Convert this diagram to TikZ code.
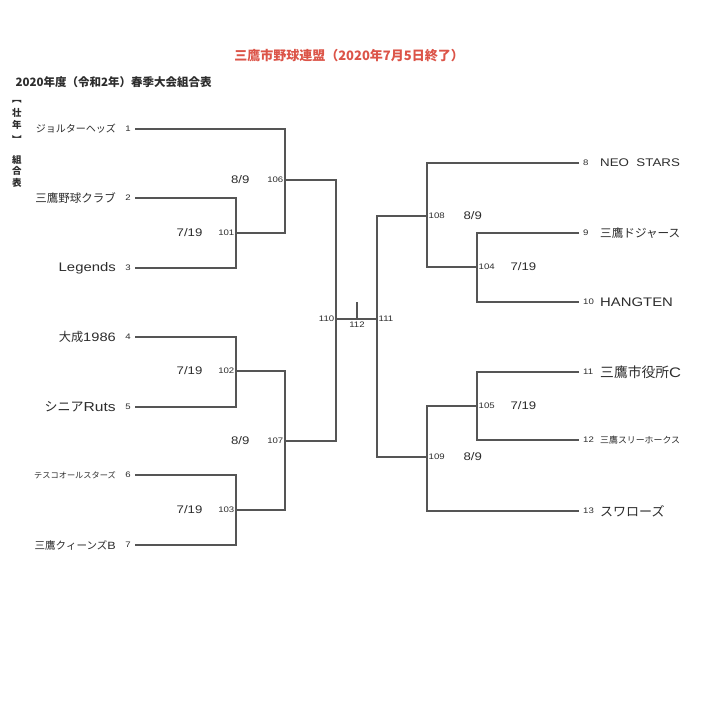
\documentclass[tikz,border=0pt]{standalone}
\usepackage{fontspec}
\usepackage{tikz}
\setmainfont{Noto Sans CJK JP}
\newfontfamily\lat{Liberation Sans}[FakeStretch=1.2]
\newcommand{\fs}[1]{\fontsize{#1}{#1}\selectfont}
\definecolor{titlered}{RGB}{220,84,72}
\definecolor{ink}{RGB}{45,45,45}
\definecolor{linegray}{RGB}{85,85,85}
\usetikzlibrary{positioning}

\begin{document}
\begin{tikzpicture}[x=1pt,y=-1pt,
        team/.style={inner sep=0pt,text=ink},
        num/.style={inner ysep=1pt,inner xsep=4pt,font=\lat\fs{8},text=ink},
        game/.style={inner ysep=1pt,inner xsep=1.5pt,font=\lat\fs{8},text=ink},
        date/.style={inner sep=0pt,font=\lat\fs{11},text=ink},
        bracket/.style={linegray,line width=1.2pt}]
                \useasboundingbox (0,0) rectangle (707,723);
                \fill[white] (0,0) rectangle (707,723);

                \node[font=\bfseries\fs{13},text=titlered] (title) at (349,56) {三鷹市野球連盟（2020年7月5日終了）};
                \node[anchor=west,font=\bfseries\fs{11.5},text=ink] (subtitle) at (12,82) {2020年度（令和2年）春季大会組合表};
                \foreach[count=\i] \c/\y in {︻/102,壮/113,年/125,︼/139,組/160,合/171,表/183} {
                    \node[font=\bfseries\fs{9.5},text=ink,inner sep=0pt] (side\i) at (17,\y) {\c};
                }

                % left half
                \node[num,anchor=east] (n1) at (135,129) {1};
                \node[num,anchor=east] (n2) at (135,198) {2};
                \node[num,anchor=east] (n3) at (135,268) {3};
                \node[num,anchor=east] (n4) at (135,337) {4};
                \node[num,anchor=east] (n5) at (135,407) {5};
                \node[num,anchor=east] (n6) at (135,475) {6};
                \node[num,anchor=east] (n7) at (135,545) {7};
                \node[team,anchor=east,font=\fs{10}] (t1) at (116,129) {ジョルターヘッズ};
                \node[team,anchor=east,font=\fs{11.5}] (t2) at (116,198) {三鷹野球クラブ};
                \node[team,anchor=east,font=\lat\fs{12.4}] (t3) at (116,268) {Legends};
                \node[team,anchor=east,font=\fs{12.2}] (t4) at (116,337) {大成{\lat 1986}};
                \node[team,anchor=east,font=\fs{13}] (t5) at (116,407) {シニア{\lat Ruts}};
                \node[team,anchor=east,font=\fs{8.2}] (t6) at (116,475) {テスコオールスターズ};
                \node[team,anchor=east,font=\fs{10.5}] (t7) at (116,545) {三鷹クィーンズ{\lat B}};

                % right half
                \node[num,anchor=west] (n8) at (579,163) {8};
                \node[num,anchor=west] (n9) at (579,233) {9};
                \node[num,anchor=west] (n10) at (579,302) {10};
                \node[num,anchor=west] (n11) at (579,372) {11};
                \node[num,anchor=west] (n12) at (579,440) {12};
                \node[num,anchor=west] (n13) at (579,511) {13};
                \node[team,anchor=west,font=\lat\fs{11.1}] (t8) at (600,163) {NEO\ \ STARS};
                \node[team,anchor=west,font=\fs{11.6}] (t9) at (600,233) {三鷹ドジャース};
                \node[team,anchor=west,font=\lat\fs{12.4}] (t10) at (600,302) {HANGTEN};
                \node[team,anchor=west,font=\fs{13.8}] (t11) at (600,372) {三鷹市役所{\lat C}};
                \node[team,anchor=west,font=\fs{8.9}] (t12) at (600,440) {三鷹スリーホークス};
                \node[team,anchor=west,font=\fs{13}] (t13) at (600,511) {スワローズ};

                % games
                \coordinate (m101) at (236,233);
                \coordinate (m102) at (236,371);
                \coordinate (m103) at (236,510);
                \coordinate (m106) at (285,180);
                \coordinate (m107) at (285,441);
                \coordinate (m110) at (336,319);
                \coordinate (m112) at (357,319);
                \coordinate (m112top) at (357,302);
                \coordinate (m111) at (377,319);
                \coordinate (m108) at (427,216);
                \coordinate (m109) at (427,457);
                \coordinate (m104) at (477,267);
                \coordinate (m105) at (477,406);

                \draw[bracket] (n2.east) -| (m101) |- (n3.east);
                \draw[bracket] (n4.east) -| (m102) |- (n5.east);
                \draw[bracket] (n6.east) -| (m103) |- (n7.east);
                \draw[bracket] (n1.east) -| (m106) |- (m101);
                \draw[bracket] (m102) -| (m107) |- (m103);
                \draw[bracket] (m106) -| (m110) |- (m107);
                \draw[bracket] (m110) -- (m111);
                \draw[bracket] (m112) -- (m112top);
                \draw[bracket] (m108) -| (m111) |- (m109);
                \draw[bracket] (n8.west) -| (m108) |- (m104);
                \draw[bracket] (n9.west) -| (m104) |- (n10.west);
                \draw[bracket] (n11.west) -| (m105) |- (n12.west);
                \draw[bracket] (m105) -| (m109) |- (n13.west);

                \node[game,anchor=east] (g101) at (m101) {101};
                \node[game,anchor=east] (g102) at (m102) {102};
                \node[game,anchor=east] (g103) at (m103) {103};
                \node[game,anchor=east] (g106) at (m106) {106};
                \node[game,anchor=east] (g107) at (m107) {107};
                \node[game,anchor=east] (g110) at (m110) {110};
                \node[game,anchor=north] (g112) at ([yshift=-2pt]m112) {112};
                \node[game,anchor=west] (g111) at (m111) {111};
                \node[game,anchor=west] (g108) at (m108) {108};
                \node[game,anchor=west] (g109) at (m109) {109};
                \node[game,anchor=west] (g104) at (m104) {104};
                \node[game,anchor=west] (g105) at (m105) {105};

                \node[date,left=14pt of g101] (d101) {7/19};
                \node[date,left=14pt of g102] (d102) {7/19};
                \node[date,left=14pt of g103] (d103) {7/19};
                \node[date,left=16pt of g106] (d106) {8/9};
                \node[date,left=16pt of g107] (d107) {8/9};
                \node[date,right=17pt of g108] (d108) {8/9};
                \node[date,right=17pt of g109] (d109) {8/9};
                \node[date,right=14pt of g104] (d104) {7/19};
                \node[date,right=14pt of g105] (d105) {7/19};
\end{tikzpicture}
\end{document}
